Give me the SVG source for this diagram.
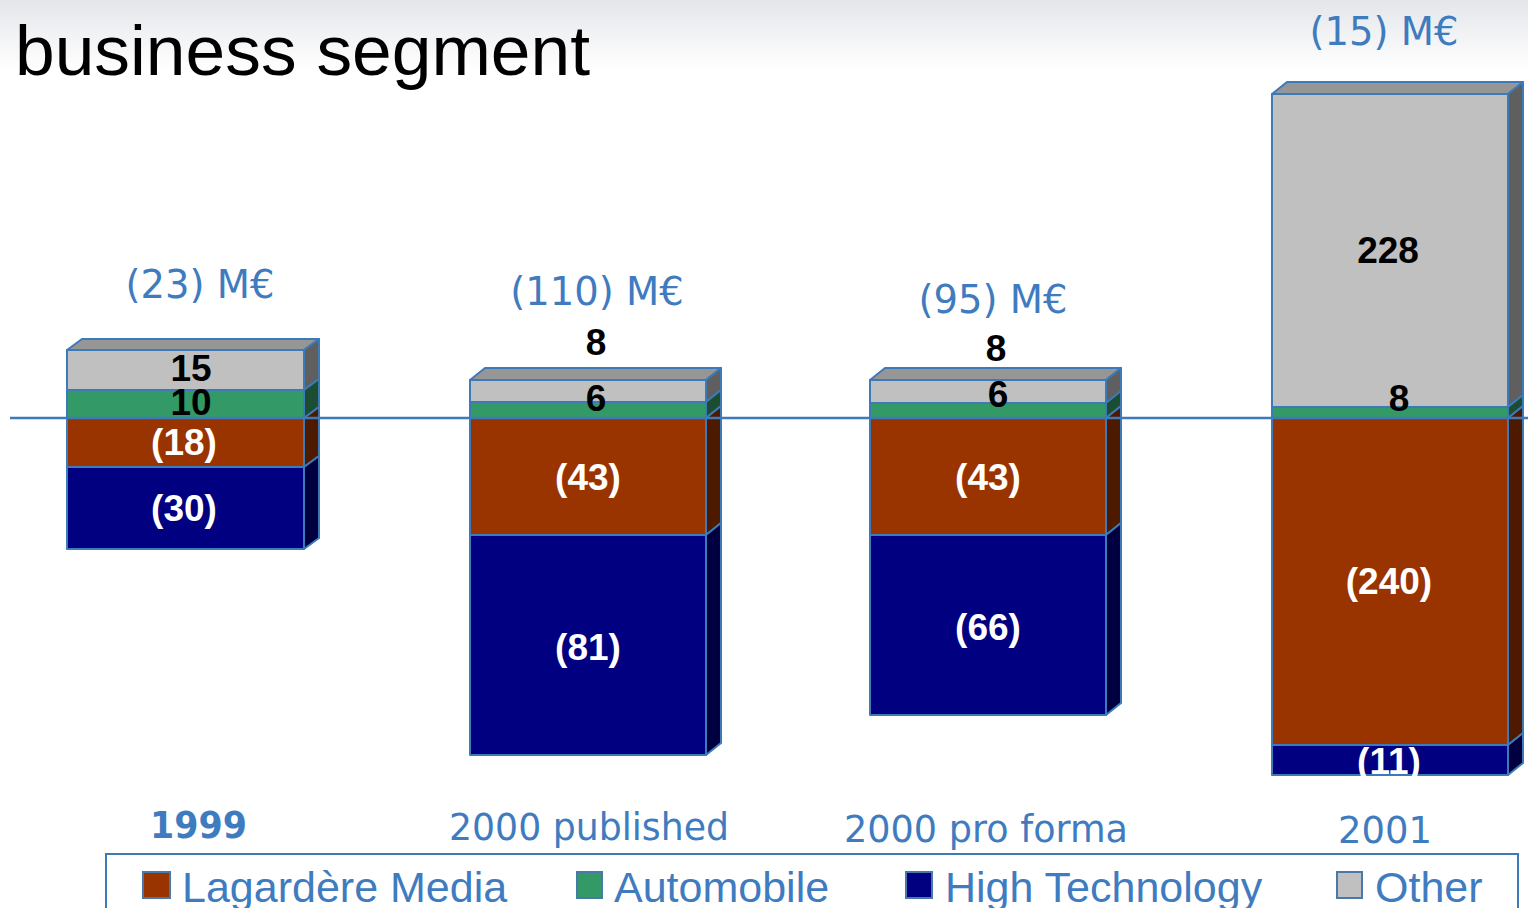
<svg xmlns="http://www.w3.org/2000/svg" width="1528" height="908" viewBox="0 0 1528 908">
<style>
.edge{stroke:#3d7ab8;stroke-width:2;stroke-linejoin:round}
.gf{fill:#c0c0c0}.gt{fill:#969696}.gs{fill:#5f5f5f}
.ef{fill:#339966}.es{fill:#1b4d33}
.bf{fill:#993300}.bs{fill:#4d1a00}
.nf{fill:#000080}.ns{fill:#000040}
.val{font-family:"Liberation Sans",Arial,sans-serif;font-weight:bold;font-size:37px;text-anchor:middle}
.blk{fill:#000}.wht{fill:#fff}
.blue{font-family:"DejaVu Sans",Verdana,sans-serif;font-size:38.5px;fill:#3f7cbf;text-anchor:middle}
.year{font-family:"DejaVu Sans",Verdana,sans-serif;font-size:37px;fill:#3f7cbf}
.leg{font-family:"Liberation Sans",Arial,sans-serif;font-size:43px;fill:#3f7cbf}
.sq{stroke:#4a78a8;stroke-width:2}
</style>
<defs>
<linearGradient id="topbg" x1="0" y1="0" x2="0" y2="1">
<stop offset="0" stop-color="#e4e6ea"/>
<stop offset="1" stop-color="#ffffff"/>
</linearGradient>
</defs>
<rect x="0" y="0" width="1528" height="908" fill="#fff"/>
<rect x="0" y="0" width="1528" height="70" fill="url(#topbg)"/>
<g id="title">
<text x="15" y="75" font-family="Liberation Sans,Arial,sans-serif" font-size="71" fill="#000" textLength="575" lengthAdjust="spacingAndGlyphs">business segment</text>
</g>

<g id="bar-1999">
<polygon class="edge gt" points="67,350 82,339 319,339 304,350"/>
<rect class="edge gf" x="67" y="350" width="237" height="40"/>
<rect class="edge ef" x="67" y="390" width="237" height="28"/>
<rect class="edge bf" x="67" y="418" width="237" height="49"/>
<rect class="edge nf" x="67" y="467" width="237" height="82"/>
<polygon class="edge gs" points="304,350 319,339 319,379 304,390"/>
<polygon class="edge es" points="304,390 319,379 319,407 304,418"/>
<polygon class="edge bs" points="304,418 319,407 319,456 304,467"/>
<polygon class="edge ns" points="304,467 319,456 319,538 304,549"/>
</g>

<g id="bar-2000-published">
<polygon class="edge gt" points="470,380 485,368 721,368 706,380"/>
<rect class="edge gf" x="470" y="380" width="236" height="22"/>
<rect class="edge ef" x="470" y="402" width="236" height="16"/>
<rect class="edge bf" x="470" y="418" width="236" height="117"/>
<rect class="edge nf" x="470" y="535" width="236" height="220"/>
<polygon class="edge gs" points="706,380 721,368 721,390 706,402"/>
<polygon class="edge es" points="706,402 721,390 721,406 706,418"/>
<polygon class="edge bs" points="706,418 721,406 721,523 706,535"/>
<polygon class="edge ns" points="706,535 721,523 721,743 706,755"/>
</g>

<g id="bar-2000-pro-forma">
<polygon class="edge gt" points="870,380 885,368 1121,368 1106,380"/>
<rect class="edge gf" x="870" y="380" width="236" height="23"/>
<rect class="edge ef" x="870" y="403" width="236" height="15"/>
<rect class="edge bf" x="870" y="418" width="236" height="117"/>
<rect class="edge nf" x="870" y="535" width="236" height="180"/>
<polygon class="edge gs" points="1106,380 1121,368 1121,391 1106,403"/>
<polygon class="edge es" points="1106,403 1121,391 1121,406 1106,418"/>
<polygon class="edge bs" points="1106,418 1121,406 1121,523 1106,535"/>
<polygon class="edge ns" points="1106,535 1121,523 1121,703 1106,715"/>
</g>

<g id="bar-2001">
<polygon class="edge gt" points="1272,94 1287,82 1523,82 1508,94"/>
<rect class="edge gf" x="1272" y="94" width="236" height="313"/>
<rect class="edge ef" x="1272" y="407" width="236" height="11"/>
<rect class="edge bf" x="1272" y="418" width="236" height="327"/>
<rect class="edge nf" x="1272" y="745" width="236" height="30"/>
<polygon class="edge gs" points="1508,94 1523,82 1523,395 1508,407"/>
<polygon class="edge es" points="1508,407 1523,395 1523,406 1508,418"/>
<polygon class="edge bs" points="1508,418 1523,406 1523,733 1508,745"/>
<polygon class="edge ns" points="1508,745 1523,733 1523,763 1508,775"/>
</g>

<g id="axis">
<line x1="10" y1="418" x2="1528" y2="418" stroke="#3d7ab8" stroke-width="2.5"/>
</g>

<g id="values">
<text class="val blk" x="191" y="381">15</text>
<text class="val blk" x="191" y="415">10</text>
<text class="val wht" x="184" y="455">(18)</text>
<text class="val wht" x="184" y="521">(30)</text>
<text class="val blk" x="596" y="355">8</text>
<text class="val blk" x="596" y="411">6</text>
<text class="val wht" x="588" y="490">(43)</text>
<text class="val wht" x="588" y="660">(81)</text>
<text class="val blk" x="996" y="361">8</text>
<text class="val blk" x="998" y="407">6</text>
<text class="val wht" x="988" y="490">(43)</text>
<text class="val wht" x="988" y="640">(66)</text>
<text class="val blk" x="1388" y="263">228</text>
<text class="val blk" x="1399" y="411">8</text>
<text class="val wht" x="1389" y="594">(240)</text>
<text class="val wht" x="1389" y="774">(11)</text>
</g>

<g id="totals">
<text class="blue" x="200" y="298">(23) M€</text>
<text class="blue" x="597" y="305">(110) M€</text>
<text class="blue" x="993" y="313">(95) M€</text>
<text class="blue" x="1384" y="45">(15) M€</text>
</g>

<g id="years">
<text class="year" x="150" y="838" font-weight="bold" textLength="97" lengthAdjust="spacingAndGlyphs">1999</text>
<text class="year" x="449" y="840" textLength="280" lengthAdjust="spacingAndGlyphs">2000 published</text>
<text class="year" x="844" y="842" textLength="284" lengthAdjust="spacingAndGlyphs">2000 pro forma</text>
<text class="year" x="1338" y="843" textLength="94" lengthAdjust="spacingAndGlyphs">2001</text>
</g>

<g id="legend">
<rect x="106" y="854" width="1412" height="80" fill="none" stroke="#3d7ab8" stroke-width="2"/>
<rect class="sq bf" x="143" y="872" width="27" height="26"/>
<text class="leg" x="182" y="902">Lagardère Media</text>
<rect class="sq ef" x="577" y="872" width="25" height="26"/>
<text class="leg" x="614" y="902">Automobile</text>
<rect class="sq nf" x="906" y="872" width="26" height="26"/>
<text class="leg" x="945" y="902">High Technology</text>
<rect class="sq gf" x="1337" y="872" width="25" height="26"/>
<text class="leg" x="1375" y="902">Other</text>
</g>
</svg>
